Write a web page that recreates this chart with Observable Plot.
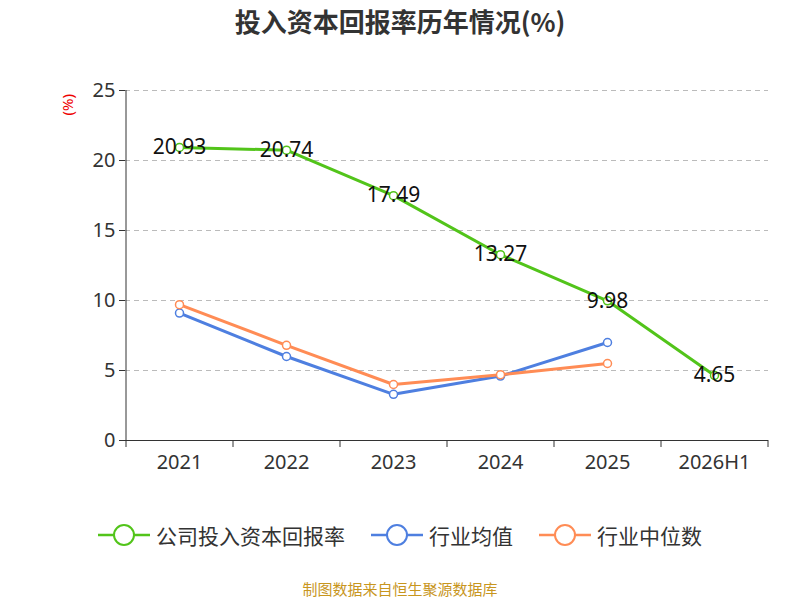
<!DOCTYPE html>
<html><head><meta charset="utf-8">
<script src="https://cdn.jsdelivr.net/npm/d3@7"></script>
<script src="https://cdn.jsdelivr.net/npm/@observablehq/plot@0.6"></script>
<style>
body{margin:0;width:800px;height:600px;font-family:"Noto Sans CJK SC","Noto Sans",sans-serif;background:#fff;position:relative}
#title{position:absolute;top:2px;width:800px;text-align:center;font-size:26px;font-weight:bold;color:#333}
#chart{position:absolute;top:50px;left:0}
#legend{position:absolute;top:520px;width:800px;display:flex;justify-content:center;gap:26px;font-size:21px;color:#333}
#legend span{display:flex;align-items:center;gap:6px}
#cap{position:absolute;top:578px;width:800px;text-align:center;font-size:15px;color:#c8961e}
</style></head><body>
<div id="title">投入资本回报率历年情况(%)</div>
<div id="chart"></div>
<div id="legend"></div>
<div id="cap">制图数据来自恒生聚源数据库</div>
<script>
const categories=["2021","2022","2023","2024","2025","2026H1"];
const company=[20.93,20.74,17.49,13.27,9.98,4.65];
const industryAvg=[9.1,6.0,3.3,4.6,7.0];
const industryMedian=[9.7,6.8,4.0,4.7,5.5];
const yTicks=[0,5,10,15,20,25];
const names=["公司投入资本回报率","行业均值","行业中位数"];
const colors=["#52c41a","#4e7fe0","#ff8c55"];
const series=[company,industryAvg,industryMedian];
const data=series.flatMap((s,i)=>s.map((v,j)=>({x:categories[j],y:v,s:names[i]})));
const comp=company.map((v,j)=>({x:categories[j],y:v}));
const step=107;
const bounds=categories.map((c,i)=>({x:c,dx:-step/2})).concat([{x:categories[5],dx:step/2}]);
const plot=Plot.plot({
 width:800,height:450,marginLeft:125,marginRight:32,marginTop:40,marginBottom:60,
 x:{type:"point",domain:categories,padding:0.5},
 y:{type:"linear",domain:[0,25],ticks:yTicks},
 color:{domain:names,range:colors},
 style:{fontFamily:"Noto Sans, sans-serif"},
 marks:[
  Plot.gridY(yTicks.filter(d=>d>0),{stroke:"#bbb",strokeOpacity:1,strokeDasharray:"5,4"}),
  Plot.axisY(yTicks,{tickSize:6,fontSize:20,fill:"#333",tickPadding:4,label:null,stroke:"#333"}),
  Plot.ruleX([categories[0]],{x:d=>d,dx:-step/2,y1:()=>0,y2:()=>25,stroke:"#333"}),
  Plot.ruleY([0],{stroke:"#333"}),
  ...bounds.map(b=>Plot.ruleX([b],{x:"x",dx:b.dx,y1:()=>0,y2:()=>0,insetBottom:-7,stroke:"#333"})),
  Plot.axisX({tickSize:0,fontSize:20,fill:"#333",tickPadding:14,label:null}),
  Plot.line(data,{x:"x",y:"y",z:"s",stroke:"s",strokeWidth:3}),
  Plot.dot(data,{x:"x",y:"y",stroke:"s",fill:"white",r:4,strokeWidth:1.5}),
  Plot.text(comp,{x:"x",y:"y",text:d=>d.y.toFixed(2),fontSize:21,fill:"#111"}),
  Plot.text(["(%)"],{frameAnchor:"top-left",dx:-63,dy:25,rotate:-90,text:d=>d,fill:"#e00",fontSize:15})
 ]});
document.getElementById("chart").append(plot);
const lg=document.getElementById("legend");
names.forEach((n,i)=>{const s=document.createElement("span");
 s.innerHTML=`<svg width="52" height="24"><line x1="0" y1="12" x2="52" y2="12" stroke="${colors[i]}" stroke-width="2.5"/><circle cx="26" cy="12" r="10" fill="white" stroke="${colors[i]}" stroke-width="2"/></svg>${n}`;lg.append(s);});
</script></body></html>
